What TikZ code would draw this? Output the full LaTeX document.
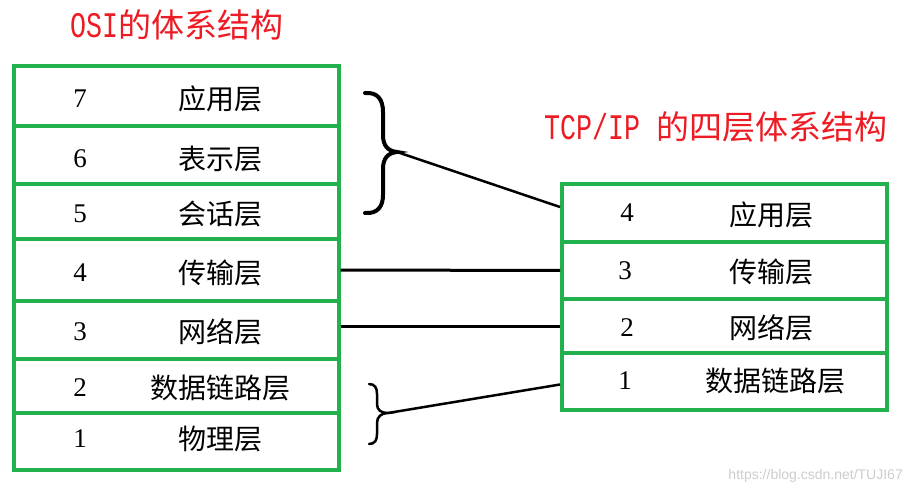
\documentclass[tikz,border=0pt]{standalone}
\usepackage{fontspec}
\setmainfont{Liberation Serif}
\newfontfamily\cjk{Noto Sans CJK SC}
\newfontfamily\monof{Liberation Mono}
\newfontfamily\wmf{Liberation Sans}
\definecolor{boxgreen}{RGB}{34,177,76}
\definecolor{titlered}{RGB}{237,28,36}
\definecolor{wmgray}{RGB}{205,205,205}
\newcommand{\latt}[1]{\scalebox{0.74}[1]{\monof\fontsize{36}{40}\selectfont #1}}
\begin{document}
\begin{tikzpicture}[x=1pt,y=-1pt,
  row/.style={draw=boxgreen,line width=4pt,minimum width=325pt,inner sep=0pt},
  num/.style={font=\fontsize{27}{30}\selectfont,inner sep=0pt},
  lab/.style={font=\cjk\fontsize{28}{32}\selectfont,inner sep=0pt},
  conn/.style={draw=black,line width=3pt},
  bracebig/.style={draw=black,line width=4pt,line cap=round},
  bracesmall/.style={draw=black,line width=2.5pt,line cap=round}]
\useasboundingbox (0,0) rectangle (912,494);
\fill[white] (0,0) rectangle (912,494);

% titles
\node[anchor=west,inner sep=0pt,text=titlered] (t1) at (70,25)
  {\latt{OSI}{\cjk\fontsize{33}{36}\selectfont 的体系结构}};
\node[anchor=west,inner sep=0pt,text=titlered] (t2) at (544,127)
  {\latt{TCP/IP\ }{\cjk\fontsize{33}{36}\selectfont 的四层体系结构}};

% left stack
\node[row,minimum height=60pt] (L7) at (176,96) {};
\node[row,minimum height=58pt] (L6) at (176,155) {};
\node[row,minimum height=55pt] (L5) at (176,211.5) {};
\node[row,minimum height=62pt] (L4) at (176,270) {};
\node[row,minimum height=58pt] (L3) at (176,330) {};
\node[row,minimum height=54pt] (L2) at (176,386) {};
\node[row,minimum height=57pt] (L1) at (176,441.5) {};

\node[num] (nL7) at (80,99) {7};
\node[num] (nL6) at (80,159) {6};
\node[num] (nL5) at (80,214) {5};
\node[num] (nL4) at (80,273) {4};
\node[num] (nL3) at (80,332) {3};
\node[num] (nL2) at (80,388) {2};
\node[num] (nL1) at (80,439) {1};

\node[lab] (xL7) at (220,99) {应用层};
\node[lab] (xL6) at (220,159) {表示层};
\node[lab] (xL5) at (220,214) {会话层};
\node[lab] (xL4) at (220,273) {传输层};
\node[lab] (xL3) at (220,332) {网络层};
\node[lab] (xL2) at (220,388) {数据链路层};
\node[lab] (xL1) at (220,439) {物理层};

% right stack
\node[row,minimum height=58pt] (R4) at (724.5,213) {};
\node[row,minimum height=57pt] (R3) at (724.5,270.5) {};
\node[row,minimum height=54pt] (R2) at (724.5,326) {};
\node[row,minimum height=57pt] (R1) at (724.5,381.5) {};

\node[num] (nR4) at (627,213) {4};
\node[num] (nR3) at (625,271) {3};
\node[num] (nR2) at (627,328) {2};
\node[num] (nR1) at (625,381) {1};

\node[lab] (xR4) at (771,215) {应用层};
\node[lab] (xR3) at (771,272) {传输层};
\node[lab] (xR2) at (771,328) {网络层};
\node[lab] (xR1) at (775,381) {数据链路层};

% braces
\draw[bracebig] (365,93) .. controls (378,92) and (383,100) .. (383,112) -- (383,135)
  .. controls (383,146) and (388,151) .. (397,152)
  .. controls (388,153) and (383,158) .. (383,169) -- (383,195)
  .. controls (383,206) and (378,214) .. (365,213);
\coordinate (B1) at (397,152);
\draw[bracesmall] (369,384) .. controls (375,384) and (377,388) .. (377,394) -- (377,404)
  .. controls (377,410) and (381,413) .. (388,413)
  .. controls (381,413) and (377,417) .. (377,423) -- (377,434)
  .. controls (377,440) and (375,444) .. (369,444);
\coordinate (B2) at (388,413);

% connectors
\draw[conn,line width=2.5pt] (B1) -- ([yshift=6pt]R4.west);
\draw[conn] (L4.east) -- (R3.west);
\draw[conn] (L3.east |- R2.west) -- (R2.west);
\draw[conn,line width=2.5pt] (B2) -- ([yshift=-3pt]R1.west);

% watermark
\node[anchor=east,inner sep=0pt,text=wmgray,font=\wmf\fontsize{14}{16}\selectfont] (wm) at (903,476) {https://blog.csdn.net/TUJI67};
\end{tikzpicture}
\end{document}
